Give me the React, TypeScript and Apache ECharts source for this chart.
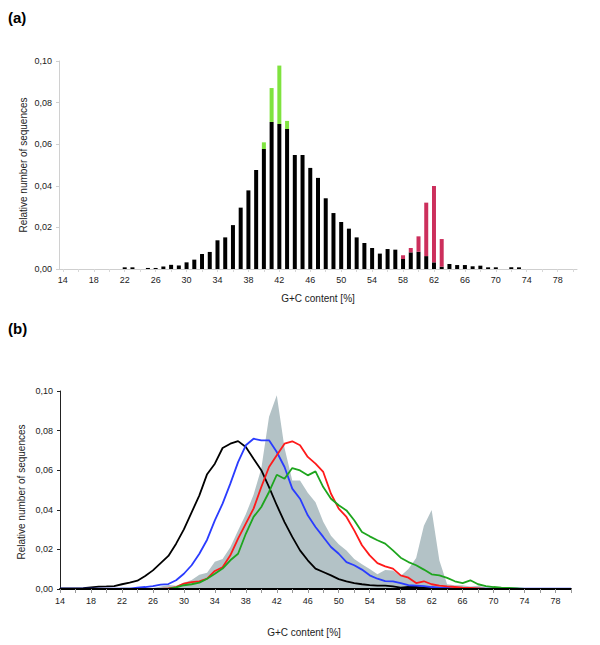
import React, { useEffect, useRef } from "react";
import * as echarts from "echarts";

const categories = [
  "14","15","16","17","18","19","20","21","22","23","24","25","26","27","28","29","30",
  "31","32","33","34","35","36","37","38","39","40","41","42","43","44","45","46","47",
  "48","49","50","51","52","53","54","55","56","57","58","59","60","61","62","63","64",
  "65","66","67","68","69","70","71","72","73","74","75","76","77","78","79","80",
];

// (a) bars, categories 14..80
const blackBars = [
  0, 0, 0, 0, 0, 0, 0, 0,
  0.0008, 0.0008, 0, 0.0005, 0.0005, 0.0012, 0.002, 0.0017, 0.0032, 0.0045,
  0.0072, 0.0082, 0.0138, 0.0152, 0.0211, 0.0295, 0.0378, 0.0476, 0.0577, 0.0707,
  0.0697, 0.0673, 0.0548, 0.0548, 0.0486, 0.0438, 0.034, 0.0269, 0.0226, 0.0194,
  0.0152, 0.0125, 0.0101, 0.0074, 0.0096, 0.0093, 0.0048, 0.008, 0.0083, 0.0062,
  0.0032, 0.0011, 0.0024, 0.0019, 0.0019, 0.0013, 0.0016, 0.0008, 0.0008, 0,
  0.0008, 0.0008,
  0, 0, 0, 0, 0, 0, 0,
];
const greenTops = [
  0, 0, 0, 0, 0, 0, 0, 0,
  0, 0, 0, 0, 0, 0, 0, 0, 0, 0,
  0, 0, 0, 0, 0, 0, 0, 0, 0.0032, 0.0163,
  0.0281, 0.0039, 0, 0, 0, 0, 0, 0, 0, 0,
  0, 0, 0, 0, 0, 0, 0, 0, 0, 0,
  0, 0, 0, 0, 0, 0, 0, 0, 0, 0,
  0, 0,
  0, 0, 0, 0, 0, 0, 0,
];
const redTops = [
  0, 0, 0, 0, 0, 0, 0, 0,
  0, 0, 0, 0, 0, 0, 0, 0, 0, 0,
  0, 0, 0, 0, 0, 0, 0, 0, 0, 0,
  0, 0, 0, 0, 0, 0, 0, 0, 0, 0,
  0, 0, 0, 0, 0, 0, 0.0018, 0.0021, 0.0074, 0.0257,
  0.0367, 0.0133, 0, 0, 0, 0, 0, 0, 0, 0,
  0, 0,
  0, 0, 0, 0, 0, 0, 0,
];

// (b) curves, categories 14..80
const grayArea = [
  0, 0, 0, 0, 0, 0, 0, 0,
  0.0008, 0.0008, 0.0003, 0.0005, 0.0005, 0.0012, 0.002, 0.0017, 0.0032, 0.0045,
  0.0072, 0.0082, 0.0138, 0.0152, 0.0211, 0.0295, 0.0378, 0.0476, 0.0609, 0.087,
  0.0978, 0.0712, 0.0548, 0.0548, 0.0486, 0.0438, 0.034, 0.0269, 0.0226, 0.0194,
  0.0152, 0.0125, 0.0101, 0.0074, 0.0096, 0.0093, 0.0066, 0.0101, 0.0157, 0.0319,
  0.0399, 0.0144, 0.0024, 0.0019, 0.0019, 0.0013, 0.0016, 0.0008, 0.0008, 0.0004,
  0.0008, 0.0008,
  0, 0, 0, 0, 0, 0, 0,
];
const blackLine = [
  0.0003, 0.0003, 0.0003, 0.0004, 0.0008, 0.0012, 0.0013, 0.0015,
  0.0024, 0.0032, 0.0042, 0.0066, 0.0094, 0.0131, 0.0167, 0.0229, 0.0301, 0.0387,
  0.0473, 0.058, 0.0633, 0.0712, 0.0734, 0.0747, 0.0717, 0.0658, 0.06, 0.0515,
  0.0423, 0.0338, 0.0263, 0.0195, 0.0145, 0.0103, 0.0086, 0.0069, 0.005, 0.0039,
  0.003, 0.0024, 0.002, 0.0017, 0.0017, 0.0013, 0.0007, 0.001, 0.001, 0.0007,
  0.0004, 0.0003, 0.0002, 0.0001, 0.0001, 0.0001, 0.0001, 0.0001, 0.0001, 0.0001,
  0.0001, 0.0001,
  0.0001, 0.0001, 0.0001, 0.0001, 0.0001, 0.0001, 0.0001,
];
const blueLine = [
  0.0002, 0.0002, 0.0002, 0.0002, 0.0002, 0.0002, 0.0002, 0.0002,
  0.0002, 0.0002, 0.0007, 0.001, 0.0015, 0.0022, 0.0025, 0.0044, 0.0077, 0.012,
  0.0178, 0.0249, 0.0347, 0.0431, 0.0532, 0.0641, 0.0726, 0.0759, 0.0751, 0.0751,
  0.0692, 0.0616, 0.0507, 0.0456, 0.0372, 0.0313, 0.0263, 0.0212, 0.0178, 0.0136,
  0.012, 0.0098, 0.0069, 0.0052, 0.004, 0.0039, 0.003, 0.0019, 0.0017, 0.0015,
  0.001, 0.0007, 0.0005, 0.0002, 0.0002, 0.0002, 0.0002, 0.0002, 0.0002, 0.0002,
  0.0002, 0.0002,
  0.0002, 0.0002, 0.0002, 0.0002, 0.0002, 0.0002, 0.0002,
];
const redLine = [
  0.0001, 0.0001, 0.0001, 0.0001, 0.0001, 0.0001, 0.0001, 0.0001,
  0.0001, 0.0001, 0.0001, 0.0001, 0.0001, 0.0001, 0.0003, 0.001, 0.0027, 0.0035,
  0.0039, 0.0052, 0.0091, 0.011, 0.017, 0.0254, 0.033, 0.0406, 0.0515, 0.0616,
  0.0675, 0.0734, 0.0746, 0.0726, 0.0667, 0.0633, 0.0591, 0.0481, 0.0406, 0.0364,
  0.0296, 0.0221, 0.017, 0.0131, 0.0114, 0.0103, 0.0069, 0.0057, 0.003, 0.0039,
  0.0024, 0.0017, 0.0013, 0.001, 0.0007, 0.0005, 0.0003, 0.0001, 0.0001, 0.0001,
  0.0001, 0.0001,
  0.0001, 0.0001, 0.0001, 0.0001, 0.0001, 0.0001, 0.0001,
];
const greenLine = [
  0.0001, 0.0001, 0.0001, 0.0001, 0.0001, 0.0001, 0.0001, 0.0001,
  0.0001, 0.0001, 0.0001, 0.0001, 0.0001, 0.0001, 0.0001, 0.0008, 0.0019, 0.0024,
  0.0032, 0.0052, 0.0077, 0.0103, 0.0145, 0.0178, 0.0279, 0.0364, 0.0414, 0.049,
  0.0577, 0.0557, 0.0611, 0.0599, 0.0574, 0.0594, 0.0515, 0.0456, 0.0423, 0.0397,
  0.0347, 0.0288, 0.0266, 0.0246, 0.0229, 0.0195, 0.0158, 0.0136, 0.012, 0.0098,
  0.0074, 0.0069, 0.0056, 0.0039, 0.003, 0.0044, 0.0024, 0.0015, 0.001, 0.0007,
  0.0005, 0.0003,
  0, 0, 0, 0, 0, 0, 0,
];

const FONT = "'Liberation Sans', Arial, Helvetica, sans-serif";
const fmt = (v: number) => v.toFixed(2).replace(".", ",");

export default function App() {
  const ref = useRef<HTMLDivElement>(null);
  useEffect(() => {
    document.body.style.margin = "0";
    const chart = echarts.init(ref.current!, null, { renderer: "svg" });
    const yAxisBase = {
      type: "value",
      min: 0,
      max: 0.1,
      interval: 0.02,
      splitLine: { show: false },
      axisLabel: { formatter: fmt, fontSize: 9, color: "#222", fontFamily: FONT, margin: 7 },
    };
    chart.setOption({
      animation: false,
      backgroundColor: "#fff",
      grid: [
        { left: 59, right: 23, top: 61, height: 208 },
        { left: 60, right: 29, top: 391, height: 198 },
      ],
      xAxis: [
        {
          type: "category",
          gridIndex: 0,
          data: categories,
          boundaryGap: true,
          axisLine: { lineStyle: { color: "#cfcfcf", width: 1 } },
          axisTick: { show: true, interval: 1, alignWithLabel: true, length: 3, lineStyle: { color: "#d8d8d8" } },
          axisLabel: { interval: 3, fontSize: 9, color: "#222", fontFamily: FONT, margin: 6 },
        },
        {
          type: "category",
          gridIndex: 1,
          data: categories,
          boundaryGap: false,
          z: 5,
          axisLine: { lineStyle: { color: "#000", width: 1.8 } },
          axisTick: { show: true, interval: 1, length: 4, lineStyle: { color: "#999" } },
          axisLabel: { interval: 3, fontSize: 9, color: "#222", fontFamily: FONT, margin: 7 },
        },
      ],
      yAxis: [
        {
          ...yAxisBase,
          gridIndex: 0,
          axisLine: { show: true, lineStyle: { color: "#d0d0d0" } },
          axisTick: { show: true, length: 3, lineStyle: { color: "#d0d0d0" } },
        },
        {
          ...yAxisBase,
          gridIndex: 1,
          axisLine: { show: true, lineStyle: { color: "#222" } },
          axisTick: { show: true, length: 3, lineStyle: { color: "#222" } },
        },
      ],
      series: [
        {
          type: "bar", xAxisIndex: 0, yAxisIndex: 0, stack: "a", barWidth: 4,
          itemStyle: { color: "#000" }, data: blackBars,
        },
        {
          type: "bar", xAxisIndex: 0, yAxisIndex: 0, stack: "a", barWidth: 4,
          itemStyle: { color: "#7fe33f" }, data: greenTops,
        },
        {
          type: "bar", xAxisIndex: 0, yAxisIndex: 0, stack: "a", barWidth: 4,
          itemStyle: { color: "#cc2f5c" }, data: redTops,
        },
        {
          type: "line", xAxisIndex: 1, yAxisIndex: 1, symbol: "none",
          lineStyle: { width: 0 }, areaStyle: { color: "#b3c2c6", opacity: 1 }, data: grayArea,
        },
        {
          type: "line", xAxisIndex: 1, yAxisIndex: 1, symbol: "none",
          lineStyle: { width: 1.8, color: "#000" }, data: blackLine,
        },
        {
          type: "line", xAxisIndex: 1, yAxisIndex: 1, symbol: "none",
          lineStyle: { width: 1.8, color: "#2a3cff" }, data: blueLine,
        },
        {
          type: "line", xAxisIndex: 1, yAxisIndex: 1, symbol: "none",
          lineStyle: { width: 1.8, color: "#ff1a1a" }, data: redLine,
        },
        {
          type: "line", xAxisIndex: 1, yAxisIndex: 1, symbol: "none",
          lineStyle: { width: 1.8, color: "#1ea51e" }, data: greenLine,
        },
      ],
      graphic: [
        { type: "text", left: 8, top: 10, style: { text: "(a)", font: `bold 15px ${FONT}`, fill: "#000" } },
        { type: "text", left: 8, top: 321, style: { text: "(b)", font: `bold 15px ${FONT}`, fill: "#000" } },
        {
          type: "text", x: 318, y: 298,
          style: { text: "G+C content [%]", font: `10px ${FONT}`, fill: "#222", align: "center", verticalAlign: "middle" },
        },
        {
          type: "text", x: 304, y: 632,
          style: { text: "G+C content [%]", font: `10px ${FONT}`, fill: "#222", align: "center", verticalAlign: "middle" },
        },
        {
          type: "text", x: 23, y: 165, rotation: Math.PI / 2,
          style: { text: "Relative number of sequences", font: `10px ${FONT}`, fill: "#222", align: "center", verticalAlign: "middle" },
        },
        {
          type: "text", x: 21, y: 492, rotation: Math.PI / 2,
          style: { text: "Relative number of sequences", font: `10px ${FONT}`, fill: "#222", align: "center", verticalAlign: "middle" },
        },
      ],
    });
    return () => chart.dispose();
  }, []);
  return <div ref={ref} style={{ width: 600, height: 645 }} />;
}
